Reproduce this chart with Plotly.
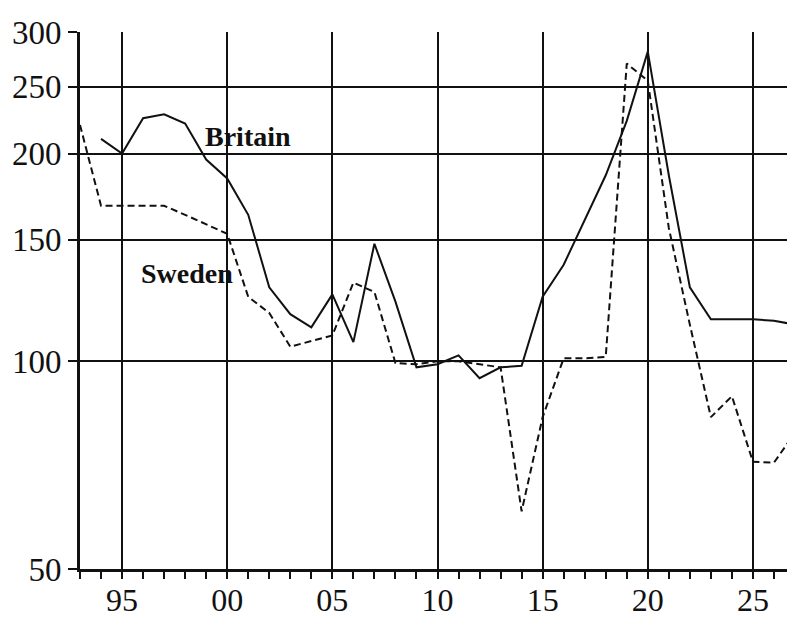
import numpy as np
import plotly.graph_objects as go

# Years
britain_years = list(range(1894, 1928))
britain_values = [210, 200, 225, 228, 221, 196, 184, 163, 128, 117, 112, 125, 106.6,
                  148, 122, 98, 99, 102, 94.5, 98, 98.5, 124, 138, 160, 186, 223,
                  281, 186, 128, 115, 115, 115, 114.5, 113]

sweden_years = list(range(1893, 1928))
sweden_values = [220, 168, 168, 168, 168, 163, 158, 153, 124, 117.5, 105, 107, 109,
                 130, 126, 99.4, 99, 100, 100, 99, 98, 60.6, 83, 101, 101, 101.5,
                 270, 255, 156, 113, 83, 89, 71.5, 71.3, 78.8]

x_tickvals = [1895, 1900, 1905, 1910, 1915, 1920, 1925]
x_ticktext = ["95", "00", "05", "10", "15", "20", "25"]
y_tickvals = [50, 100, 150, 200, 250, 300]
y_ticktext = ["50", "100", "150", "200", "250", "300"]

labels = ["Britain", "Sweden"]
label_x = [1901.0, 1898.1]
label_y = [212, 134]

FONT = "Liberation Serif"
INK = "#111111"

fig = go.Figure()
fig.add_trace(go.Scatter(x=britain_years, y=britain_values, mode="lines",
                         line=dict(color=INK, width=2), name="Britain",
                         showlegend=False, cliponaxis=True))
fig.add_trace(go.Scatter(x=sweden_years, y=sweden_values, mode="lines",
                         line=dict(color=INK, width=2, dash="7px,4px"), name="Sweden",
                         showlegend=False, cliponaxis=True))

for t, xx, yy in zip(labels, label_x, label_y):
    fig.add_annotation(x=xx, y=np.log10(yy), text="<b>%s</b>" % t, showarrow=False,
                       xanchor="center", yanchor="middle",
                       font=dict(family=FONT, size=28, color=INK))

fig.update_xaxes(range=[1893, 1927], tickvals=x_tickvals, ticktext=x_ticktext,
                 showgrid=True, gridcolor=INK, gridwidth=1.6,
                 ticks="outside", ticklen=7, tickwidth=1.6, tickcolor=INK,
                 minor=dict(dtick=1, tick0=1893, ticks="outside", ticklen=7,
                            tickwidth=1.6, tickcolor=INK, showgrid=False),
                 showline=True, linecolor=INK, linewidth=3,
                 tickfont=dict(family=FONT, size=32, color=INK),
                 ticklabelstandoff=-6,
                 zeroline=False, fixedrange=True, automargin=False)
fig.update_yaxes(type="log", range=[np.log10(50), np.log10(300)],
                 tickvals=y_tickvals, ticktext=y_ticktext,
                 showgrid=True, gridcolor=INK, gridwidth=1.6,
                 ticks="outside", ticklen=9, tickwidth=1.6, tickcolor=INK,
                 showline=True, linecolor=INK, linewidth=3,
                 tickfont=dict(family=FONT, size=33, color=INK),
                 zeroline=False, fixedrange=True, automargin=False)

# the page body has an 8px margin, so the figure is shrunk by 8px to fit the window
fig.update_layout(width=787, height=610,
                  margin=dict(l=72, r=0, t=24, b=49, autoexpand=False),
                  paper_bgcolor="white", plot_bgcolor="white",
                  showlegend=False)

fig.write_html("out.html")
